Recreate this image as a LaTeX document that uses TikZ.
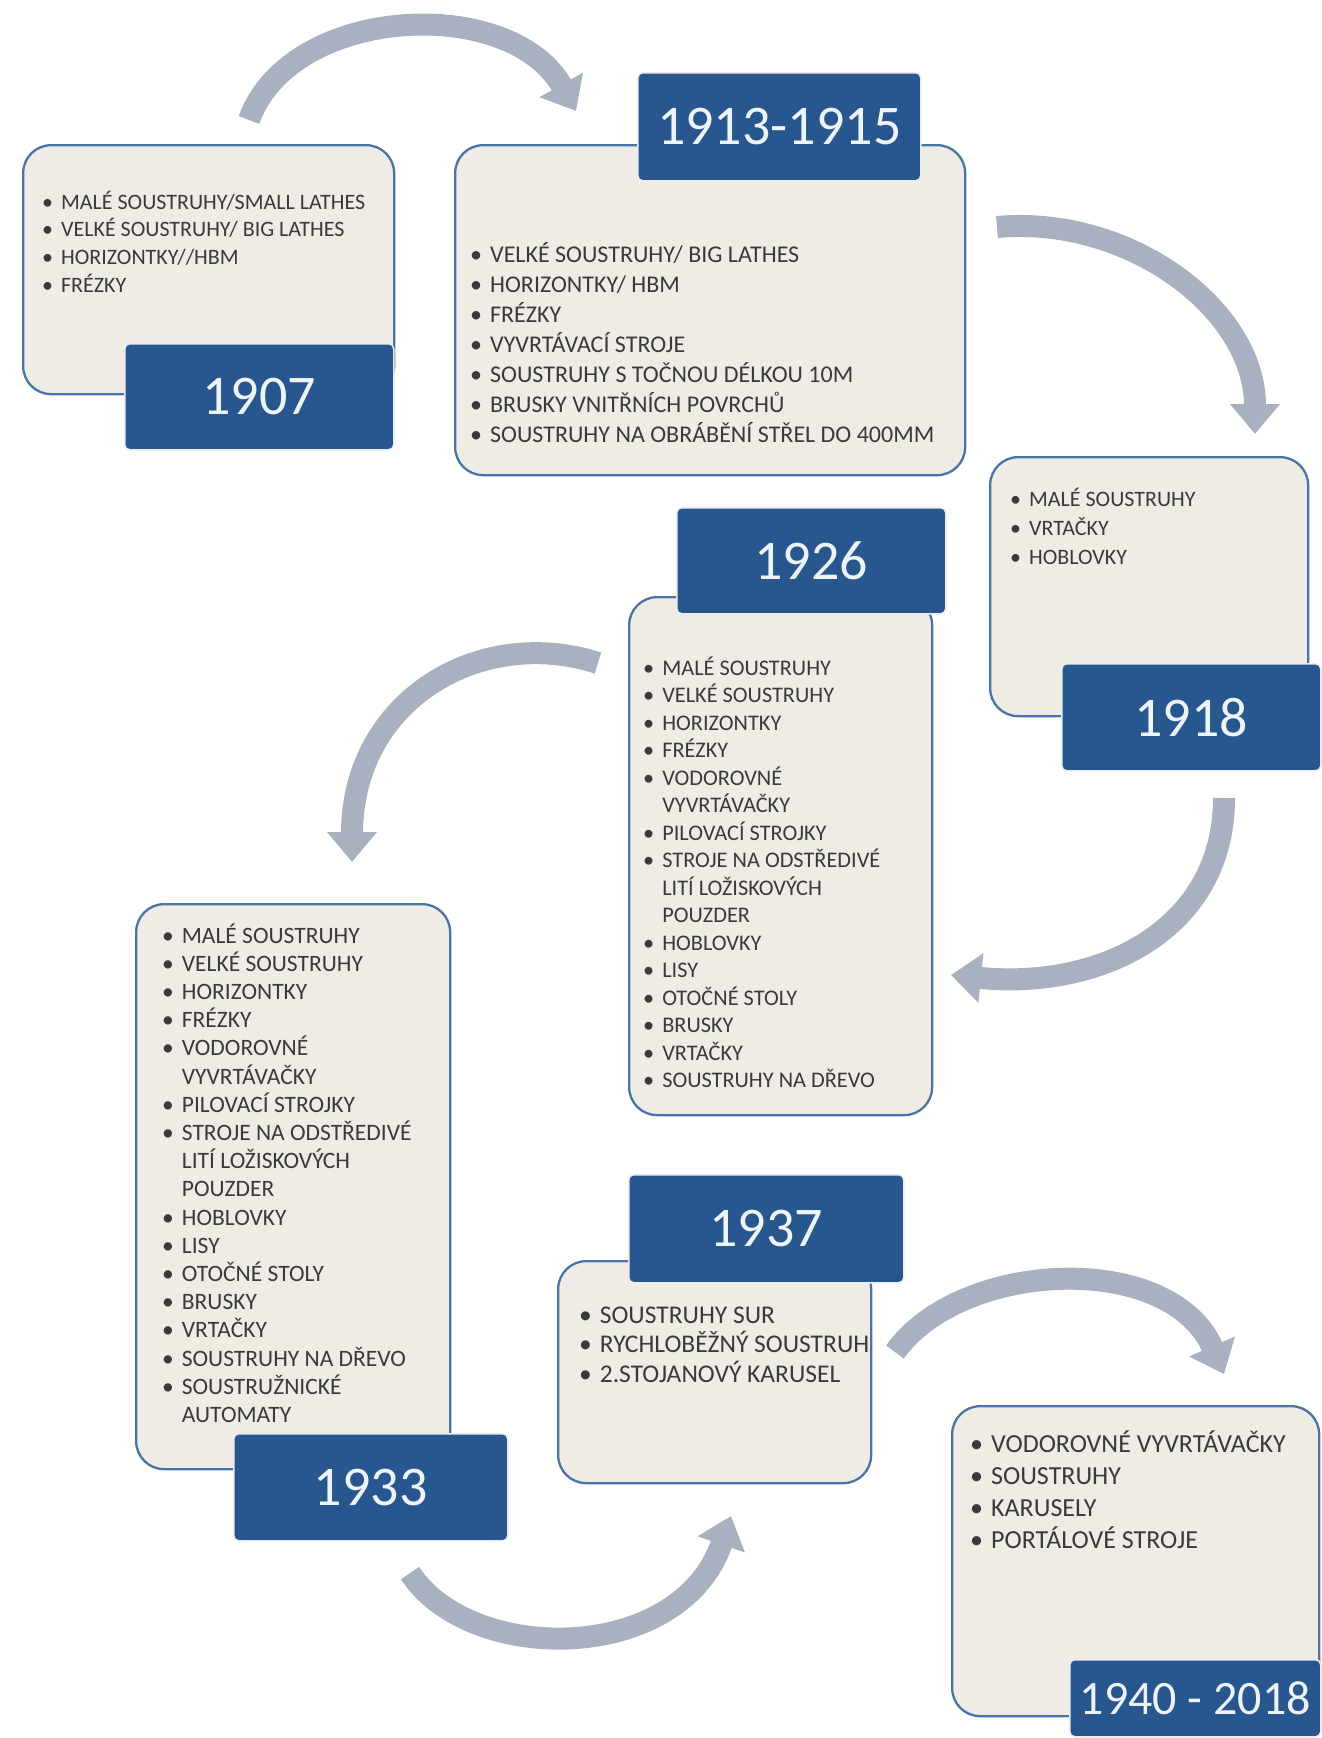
\documentclass[tikz,border=0pt]{standalone}
\usepackage{fontspec}
\setmainfont{Carlito}
\usetikzlibrary{arrows.meta}
\definecolor{panelfill}{HTML}{EEECE4}
\definecolor{panelborder}{HTML}{4A74A8}
\definecolor{yearblue}{HTML}{28568F}
\definecolor{yeartext}{HTML}{EEF4FB}
\definecolor{arrowgray}{HTML}{A9B0C0}
\definecolor{itemgray}{HTML}{3A3A3A}
\newcommand{\blist}[3]{\fontsize{#1}{#2}\selectfont\begin{tabular}[t]{@{}l@{\hspace{8pt}}l@{}}#3\end{tabular}}
\begin{document}
\begin{tikzpicture}[x=1pt,y=-1pt,
  panel/.style={draw=panelborder, line width=2.3pt, fill=panelfill, rounded corners=28pt, anchor=north west, inner sep=0pt},
  yearbox/.style={draw=white!85!gray, line width=1.5pt, fill=yearblue, rounded corners=5pt, text=yeartext, anchor=north west, inner sep=0pt, font=\fontsize{56}{60}\selectfont},
  flow/.style={line width=22pt, draw=arrowgray, -{Triangle[length=30pt,width=48pt]}},
  items/.style={anchor=base west, text=itemgray, inner sep=0pt, align=left}]
\useasboundingbox (0,0) rectangle (1322,1738);
\fill[white] (0,0) rectangle (1322,1738);

% panels
\node[panel, minimum width=371pt, minimum height=249pt] (p1907) at (22,144) {};
\node[panel, minimum width=510pt, minimum height=330pt] (p1913) at (454,144) {};
\node[panel, minimum width=318pt, minimum height=259pt] (p1918) at (989,456) {};
\node[panel, minimum width=303pt, minimum height=518pt] (p1926) at (628,596) {};
\node[panel, minimum width=314pt, minimum height=565pt] (p1933) at (135,903) {};
\node[panel, minimum width=313pt, minimum height=222pt] (p1937) at (557,1260) {};
\node[panel, minimum width=367pt, minimum height=310pt] (p1940) at (951,1405) {};

% year labels
\node[yearbox, minimum width=269pt, minimum height=106pt] (y1907) at (124,343) {1907};
\node[yearbox, minimum width=283pt, minimum height=108pt] (y1913) at (637,72) {1913-1915};
\node[yearbox, minimum width=259pt, minimum height=107pt] (y1918) at (1061,663) {1918};
\node[yearbox, minimum width=269pt, minimum height=106pt] (y1926) at (676,507) {1926};
\node[yearbox, minimum width=274pt, minimum height=107pt] (y1933) at (233,1433) {1933};
\node[yearbox, minimum width=275pt, minimum height=108pt] (y1937) at (628,1174) {1937};
\node[yearbox, minimum width=251pt, minimum height=77pt, font=\fontsize{48}{52}\selectfont] (y1940) at (1069,1659) {1940 - 2018};

% item lists
\node[items] (t1907) at (42,209) {\blist{22}{27.7}{%
\textbullet & MALÉ SOUSTRUHY/SMALL LATHES\\
\textbullet & VELKÉ SOUSTRUHY/ BIG LATHES\\
\textbullet & HORIZONTKY//HBM\\
\textbullet & FRÉZKY}};
\node[items] (t1913) at (470,262) {\blist{24}{30}{%
\textbullet & VELKÉ SOUSTRUHY/ BIG LATHES\\
\textbullet & HORIZONTKY/ HBM\\
\textbullet & FRÉZKY\\
\textbullet & VYVRTÁVACÍ STROJE\\
\textbullet & SOUSTRUHY S TOČNOU DÉLKOU 10M\\
\textbullet & BRUSKY VNITŘNÍCH POVRCHŮ\\
\textbullet & SOUSTRUHY NA OBRÁBĚNÍ STŘEL DO 400MM}};
\node[items] (t1918) at (1010,506) {\blist{22}{29}{%
\textbullet & MALÉ SOUSTRUHY\\
\textbullet & VRTAČKY\\
\textbullet & HOBLOVKY}};
\node[items] (t1926) at (643,675) {\blist{22.3}{27.5}{%
\textbullet & MALÉ SOUSTRUHY\\
\textbullet & VELKÉ SOUSTRUHY\\
\textbullet & HORIZONTKY\\
\textbullet & FRÉZKY\\
\textbullet & VODOROVNÉ\\
 & VYVRTÁVAČKY\\
\textbullet & PILOVACÍ STROJKY\\
\textbullet & STROJE NA ODSTŘEDIVÉ\\
 & LITÍ LOŽISKOVÝCH\\
 & POUZDER\\
\textbullet & HOBLOVKY\\
\textbullet & LISY\\
\textbullet & OTOČNÉ STOLY\\
\textbullet & BRUSKY\\
\textbullet & VRTAČKY\\
\textbullet & SOUSTRUHY NA DŘEVO}};
\node[items] (t1933) at (162,943) {\blist{23.5}{28.2}{%
\textbullet & MALÉ SOUSTRUHY\\
\textbullet & VELKÉ SOUSTRUHY\\
\textbullet & HORIZONTKY\\
\textbullet & FRÉZKY\\
\textbullet & VODOROVNÉ\\
 & VYVRTÁVAČKY\\
\textbullet & PILOVACÍ STROJKY\\
\textbullet & STROJE NA ODSTŘEDIVÉ\\
 & LITÍ LOŽISKOVÝCH\\
 & POUZDER\\
\textbullet & HOBLOVKY\\
\textbullet & LISY\\
\textbullet & OTOČNÉ STOLY\\
\textbullet & BRUSKY\\
\textbullet & VRTAČKY\\
\textbullet & SOUSTRUHY NA DŘEVO\\
\textbullet & SOUSTRUŽNICKÉ\\
 & AUTOMATY}};
\node[items] (t1937) at (579,1323) {\blist{25.5}{28.5}{%
\textbullet & SOUSTRUHY SUR\\
\textbullet & RYCHLOBĚŽNÝ SOUSTRUH\\
\textbullet & 2.STOJANOVÝ KARUSEL}};
\node[items] (t1940) at (970,1452) {\blist{26}{32}{%
\textbullet & VODOROVNÉ VYVRTÁVAČKY\\
\textbullet & SOUSTRUHY\\
\textbullet & KARUSELY\\
\textbullet & PORTÁLOVÉ STROJE}};

% arrows
\coordinate (a1s) at (249,120); \coordinate (a1e) at (576,111);
\draw[flow] (a1s) .. controls (290,5) and (510,-6) .. (a1e);
\coordinate (a2s) at (997,227); \coordinate (a2e) at (1255,434);
\draw[flow] (a2s) .. controls (1130,215) and (1255,310) .. (a2e);
\coordinate (a3s) at (1224,798); \coordinate (a3e) at (951,975);
\draw[flow] (a3s) .. controls (1224,930) and (1100,990) .. (a3e);
\coordinate (a4s) at (598,663); \coordinate (a4e) at (352,862);
\draw[flow] (a4s) .. controls (480,625) and (352,700) .. (a4e);
\coordinate (a5s) at (410,1573); \coordinate (a5e) at (731,1516);
\draw[flow] (a5s) .. controls (470,1665) and (680,1665) .. (a5e);
\coordinate (a6s) at (895,1352); \coordinate (a6e) at (1224,1374);
\draw[flow] (a6s) .. controls (960,1260) and (1170,1250) .. (a6e);
\end{tikzpicture}
\end{document}
